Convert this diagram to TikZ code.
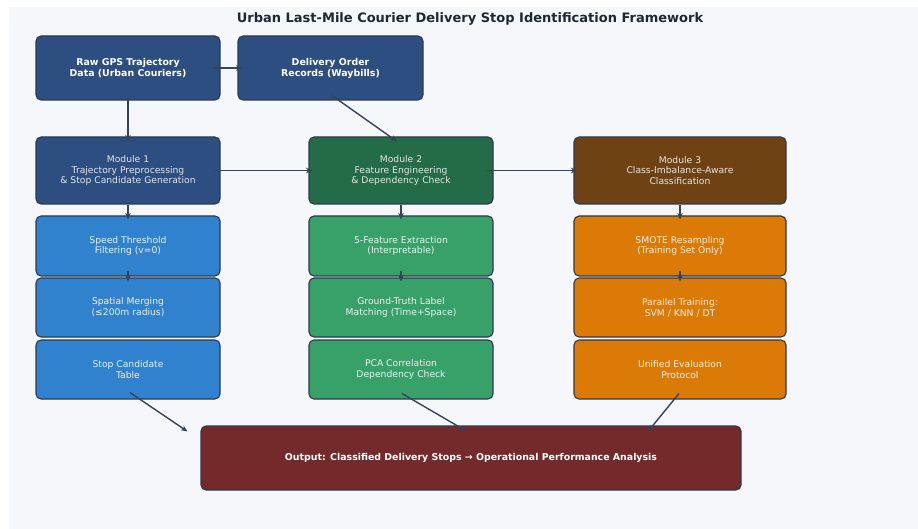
\documentclass[tikz,border=0pt]{standalone}
\usepackage{fontspec}
\setmainfont{DejaVu Sans}
\usetikzlibrary{arrows.meta}
\definecolor{bgpanel}{HTML}{F5F7FA}
\definecolor{edgecol}{HTML}{2D3A4F}
\definecolor{arrowcol}{HTML}{364256}
\definecolor{navyblue}{HTML}{2C4E80}
\definecolor{darkgreen}{HTML}{246B48}
\definecolor{darkbrown}{HTML}{6F4213}
\definecolor{brightblue}{HTML}{3182CE}
\definecolor{midgreen}{HTML}{38A169}
\definecolor{amber}{HTML}{DB7A06}
\definecolor{wine}{HTML}{742A2A}
\definecolor{titlecol}{HTML}{1F2733}
\tikzset{
  box/.style={draw=edgecol, line width=1.1pt, rounded corners=5pt, align=center,
    text=white, font=\fontsize{9.2}{10.9}\selectfont, inner sep=2pt},
  srcbox/.style={box, fill=navyblue, minimum width=184pt, minimum height=64pt,
    font=\fontsize{9.4}{11}\selectfont\bfseries},
  modbox/.style={box, minimum height=67pt, text=white!90!black},
  subbox/.style={box, minimum height=60pt, text=white!94!black},
  flow/.style={draw=arrowcol, line width=1.4pt, -{Stealth[length=6.5pt,width=5.5pt]}},
}
\begin{document}
\begin{tikzpicture}[x=1pt, y=-1pt]
  \useasboundingbox (0,0) rectangle (918,529);
  \fill[white] (0,0) rectangle (918,529);
  \fill[bgpanel] (9,7) rectangle (918,529);

  \node[font=\fontsize{13}{15}\selectfont\bfseries, text=titlecol] (title) at (470,19)
    {Urban Last-Mile Courier Delivery Stop Identification Framework};

  % data sources
  \node[srcbox] (raw) at (128,68) {Raw GPS Trajectory\\Data (Urban Couriers)};
  \node[srcbox, minimum width=185pt] (order) at (330.5,68) {Delivery Order\\Records (Waybills)};

  % module headers
  \node[modbox, fill=navyblue, minimum width=184pt] (m1) at (128,170.5)
    {Module 1\\Trajectory Preprocessing\\\& Stop Candidate Generation};
  \node[modbox, fill=darkgreen, minimum width=184pt] (m2) at (401,170.5)
    {Module 2\\Feature Engineering\\\& Dependency Check};
  \node[modbox, fill=darkbrown, minimum width=212pt] (m3) at (680,170.5)
    {Module 3\\Class-Imbalance-Aware\\Classification};

  % module 1 steps
  \node[subbox, fill=brightblue, minimum width=184pt] (a1) at (128,246) {Speed Threshold\\Filtering (v=0)};
  \node[subbox, fill=brightblue, minimum width=184pt, minimum height=59pt] (a2) at (128,307.5) {Spatial Merging\\(≤200m radius)};
  \node[subbox, fill=brightblue, minimum width=184pt, minimum height=59pt] (a3) at (128,369.5) {Stop Candidate\\Table};

  % module 2 steps
  \node[subbox, fill=midgreen, minimum width=184pt] (b1) at (401,246) {5-Feature Extraction\\(Interpretable)};
  \node[subbox, fill=midgreen, minimum width=184pt, minimum height=59pt] (b2) at (401,307.5) {Ground-Truth Label\\Matching (Time+Space)};
  \node[subbox, fill=midgreen, minimum width=184pt, minimum height=59pt] (b3) at (401,369.5) {PCA Correlation\\Dependency Check};

  % module 3 steps
  \node[subbox, fill=amber, minimum width=212pt] (c1) at (680,246) {SMOTE Resampling\\(Training Set Only)};
  \node[subbox, fill=amber, minimum width=212pt, minimum height=59pt] (c2) at (680,307.5) {Parallel Training:\\SVM / KNN / DT};
  \node[subbox, fill=amber, minimum width=212pt, minimum height=59pt] (c3) at (680,369.5) {Unified Evaluation\\Protocol};

  % output
  \node[box, fill=wine, minimum width=540pt, minimum height=64pt,
    font=\fontsize{9.4}{11}\selectfont\bfseries] (out) at (471,458)
    {Output: Classified Delivery Stops → Operational Performance Analysis};

  % connectors
  \draw[flow] ([xshift=-7pt]raw.east) -- ([xshift=5pt]order.west);
  \draw[flow] ([yshift=3pt]raw.south) -- ([yshift=-5pt]m1.north);
  \draw[flow] ([xshift=1.5pt,yshift=5pt]order.south) -- ([xshift=-4pt,yshift=-5pt]m2.north);
  \draw[flow] ([xshift=-7pt]m1.east) -- ([xshift=4pt]m2.west);
  \draw[flow] ([xshift=-7pt]m2.east) -- ([xshift=4pt]m3.west);

  \draw[flow] (m1.south) -- ([yshift=-4pt]a1.north);
  \draw[flow] ([yshift=6pt]a1.south) -- ([yshift=-4pt]a2.north);
  \draw[flow] (m2.south) -- ([yshift=-4pt]b1.north);
  \draw[flow] ([yshift=6pt]b1.south) -- ([yshift=-4pt]b2.north);
  \draw[flow] (m3.south) -- ([yshift=-4pt]c1.north);
  \draw[flow] ([yshift=6pt]c1.south) -- ([yshift=-4pt]c2.north);

  \draw[flow] ([xshift=2pt,yshift=7pt]a3.south) -- ([xshift=-13pt,yshift=-6pt]out.north west);
  \draw[flow] ([xshift=1pt,yshift=6pt]b3.south) -- ([xshift=-4pt,yshift=-6pt]out.north);
  \draw[flow] ([xshift=-1pt,yshift=6pt]c3.south) -- ([xshift=177pt,yshift=-6pt]out.north);
\end{tikzpicture}
\end{document}
